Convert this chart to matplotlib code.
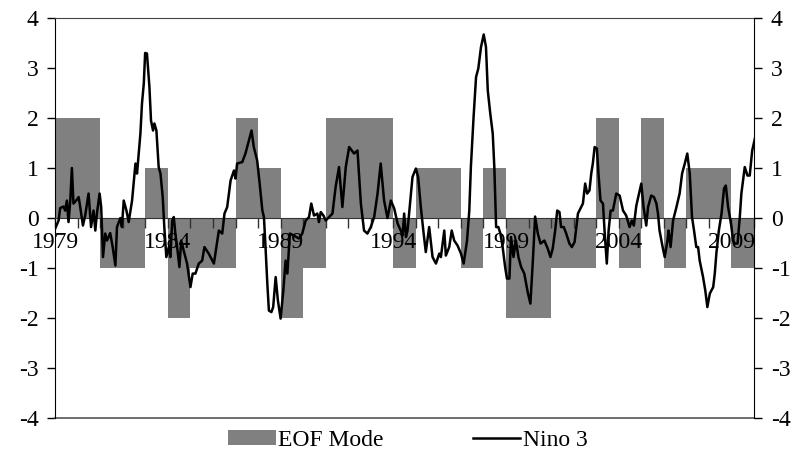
import matplotlib
matplotlib.use("Agg")
import matplotlib.pyplot as plt
from matplotlib.patches import Patch
from matplotlib.lines import Line2D

plt.rcParams['font.family'] = ['Liberation Serif', 'DejaVu Serif']
plt.rcParams['axes.unicode_minus'] = False

# yearly EOF mode (one bar per year)
years = list(range(1979, 2010))
eof_mode = [2, 2, -1, -1, 1, -2, -1, -1, 2, 1, -2, -1, 2, 2, 2, -1, 1, 1, -1, 1,
            -2, -2, -1, -1, 2, -1, 2, -1, 1, 1, -1]

# Nino 3 index (decimal year, value)
nino_t = [1979.00, 1979.15, 1979.22, 1979.37, 1979.44, 1979.52, 1979.59, 1979.67,
          1979.74, 1979.81, 1979.93, 1980.04, 1980.11, 1980.23, 1980.33, 1980.48,
          1980.59, 1980.70, 1980.78, 1980.85, 1980.97, 1981.04, 1981.12, 1981.22,
          1981.30, 1981.44, 1981.55, 1981.67, 1981.74, 1981.89, 1981.96, 1982.04,
          1982.16, 1982.26, 1982.41, 1982.56, 1982.63, 1982.78, 1982.85, 1982.93,
          1982.99, 1983.07, 1983.18, 1983.25, 1983.34, 1983.40, 1983.49, 1983.59,
          1983.67, 1983.77, 1983.84, 1983.93, 1984.04, 1984.11, 1984.19, 1984.26,
          1984.33, 1984.41, 1984.51, 1984.59, 1984.70, 1984.85, 1985.00, 1985.10,
          1985.22, 1985.37, 1985.52, 1985.62, 1985.81, 1986.04, 1986.26, 1986.41,
          1986.51, 1986.63, 1986.78, 1986.93, 1987.00, 1987.07, 1987.30, 1987.44,
          1987.59, 1987.71, 1987.81, 1987.96, 1988.07, 1988.19, 1988.26, 1988.33,
          1988.41, 1988.48, 1988.59, 1988.67, 1988.78, 1988.88, 1989.00, 1989.12,
          1989.22, 1989.30, 1989.41, 1989.59, 1989.81, 1989.96, 1990.11, 1990.26,
          1990.36, 1990.48, 1990.63, 1990.70, 1990.78, 1990.90, 1991.00, 1991.15,
          1991.30, 1991.44, 1991.59, 1991.74, 1991.89, 1992.04, 1992.26, 1992.41,
          1992.56, 1992.70, 1992.85, 1993.00, 1993.15, 1993.30,
          1993.44, 1993.59, 1993.74, 1993.89, 1994.04, 1994.19, 1994.33, 1994.41,
          1994.48, 1994.56, 1994.63, 1994.78, 1994.85, 1995.00, 1995.10, 1995.22,
          1995.33, 1995.44, 1995.59, 1995.74, 1995.89, 1996.04, 1996.11, 1996.26,
          1996.33, 1996.48, 1996.59, 1996.70, 1996.85, 1997.00, 1997.12, 1997.27,
          1997.37, 1997.44, 1997.56, 1997.67, 1997.77, 1997.89, 1998.01, 1998.11,
          1998.19, 1998.30, 1998.41, 1998.48, 1998.56, 1998.66, 1998.75, 1998.85,
          1998.96, 1999.04, 1999.15, 1999.22, 1999.33, 1999.44, 1999.55, 1999.67,
          1999.81, 1999.96, 2000.08, 2000.19, 2000.29, 2000.41, 2000.53, 2000.70,
          2000.85, 2000.97, 2001.07, 2001.18, 2001.27, 2001.37, 2001.44, 2001.56,
          2001.67, 2001.81, 2001.92, 2002.04, 2002.19, 2002.33, 2002.41, 2002.51,
          2002.60, 2002.70, 2002.78, 2002.85, 2002.93, 2003.03, 2003.10, 2003.19,
          2003.30, 2003.37, 2003.47, 2003.55, 2003.64, 2003.74, 2003.89, 2004.04,
          2004.19, 2004.33, 2004.48, 2004.58, 2004.67, 2004.78, 2004.88, 2005.00,
          2005.10, 2005.22, 2005.30, 2005.44, 2005.56, 2005.67, 2005.74, 2005.81,
          2005.96, 2006.04, 2006.16, 2006.21, 2006.30, 2006.41, 2006.56, 2006.70,
          2006.81, 2006.93, 2007.04, 2007.15, 2007.25, 2007.34, 2007.44, 2007.52,
          2007.59, 2007.74, 2007.84, 2007.93, 2008.04, 2008.19, 2008.26, 2008.33,
          2008.44, 2008.56, 2008.67, 2008.75, 2008.85, 2008.93, 2009.00, 2009.07,
          2009.15, 2009.27, 2009.37, 2009.44, 2009.59, 2009.71, 2009.81, 2009.92,
          2010.04]
nino_v = [-0.21, -0.05, 0.20, 0.23, 0.15, 0.35, -0.08, 0.35,
          1.00, 0.29, 0.35, 0.42, 0.22, -0.15, 0.05, 0.49,
          -0.18, 0.15, -0.25, 0.09, 0.49, 0.22, -0.78, -0.31,
          -0.45, -0.30, -0.58, -0.95, -0.18, 0.00, -0.18, 0.35,
          0.15, -0.08, 0.35, 1.09, 0.89, 1.69, 2.29, 2.69,
          3.30, 3.29, 2.62, 1.95, 1.75, 1.89, 1.75, 1.02,
          0.89, 0.42, -0.18, -0.78, -0.58, -0.78, -0.05, 0.02,
          -0.31, -0.58, -0.98, -0.45, -0.65, -0.91, -1.38, -1.11,
          -1.11, -0.91, -0.85, -0.58, -0.71, -0.91, -0.25, -0.31,
          0.09, 0.22, 0.75, 0.95, 0.79, 1.09, 1.12, 1.29,
          1.55, 1.75, 1.42, 1.15, 0.69, 0.15, 0.02, -0.58,
          -1.31, -1.85, -1.88, -1.78, -1.18, -1.65, -2.01, -1.45,
          -0.85, -1.11, -0.31, -0.35, -0.41, -0.31, -0.05, 0.02,
          0.29, 0.05, 0.09, -0.08, 0.12, 0.05, -0.05, 0.02,
          0.09, 0.62, 1.02, 0.22, 1.02, 1.42, 1.29, 1.35,
          0.29, -0.25, -0.31, -0.18, 0.02, 0.49,
          1.09, 0.35, 0.00, 0.35, 0.19, -0.11, -0.25, -0.35,
          0.09, -0.38, -0.25, 0.49, 0.82, 0.99, 0.82, 0.22,
          -0.25, -0.68, -0.18, -0.78, -0.91, -0.71, -0.78, -0.25,
          -0.75, -0.58, -0.25, -0.45, -0.55, -0.71, -0.91, -0.45,
          0.15, 1.02, 2.02, 2.82, 2.99, 3.42, 3.67, 3.42,
          2.55, 2.09, 1.69, 1.02, -0.18, -0.18, -0.31, -0.58,
          -0.98, -1.21, -1.21, -0.38, -0.78, -0.45, -0.78, -0.98,
          -1.11, -1.48, -1.71, -0.85, 0.03, -0.31, -0.51, -0.45,
          -0.61, -0.78, -0.61, -0.25, 0.15, 0.12, -0.18, -0.18,
          -0.31, -0.51, -0.58, -0.48, 0.09, 0.22, 0.29, 0.69,
          0.49, 0.55, 0.89, 1.09, 1.42, 1.39, 0.89, 0.35,
          0.29, -0.25, -0.91, -0.25, 0.15, 0.15, 0.49, 0.45,
          0.15, 0.05, -0.18, -0.05, -0.15, 0.25, 0.45, 0.69,
          0.22, -0.15, 0.22, 0.45, 0.42, 0.29, 0.09, -0.25,
          -0.61, -0.78, -0.45, -0.25, -0.58, -0.05, 0.22, 0.49,
          0.89, 1.09, 1.29, 0.89, 0.02, -0.25, -0.58, -0.58,
          -0.85, -1.18, -1.45, -1.78, -1.51, -1.38, -1.11, -0.71,
          -0.25, 0.09, 0.59, 0.65, 0.22, 0.02, -0.18, -0.45,
          -0.51, -0.51, 0.02, 0.49, 1.02, 0.85, 0.85, 1.35,
          1.59]

fig = plt.figure(figsize=(8, 4.61), dpi=100)
ax = fig.add_axes([0.069, 0.093, 0.8735, 0.868])

ax.bar(years, eof_mode, width=1.0, align='edge', color='#808080', zorder=0.3)
ax.plot(nino_t, nino_v, color='black', lw=1.8, zorder=3)

ax.set_xlim(1979, 2010)
ax.set_ylim(-4, 4)
ax.set_axisbelow(True)

# x axis sits on zero
ax.spines['bottom'].set_position(('data', 0))
ax.spines['bottom'].set_color('#333333')
ax.spines['top'].set_color('#444444')
ax.spines['right'].set_visible(False)
ax.axhline(-4, color='#555555', lw=1.2, clip_on=False, zorder=2.5)

ax.set_xticks(range(1979, 2011))
ax.set_xticklabels([str(y) if (y - 1979) % 5 == 0 else '' for y in range(1979, 2011)])
ax.tick_params(axis='x', direction='out', length=7, width=1, pad=3, labelsize=17, color='#333333')
ax.set_yticks(range(-4, 5))
ax.tick_params(axis='y', direction='out', length=6, width=1, labelsize=17, pad=6)

ax2 = ax.twinx()
ax2.set_ylim(-4, 4)
ax2.set_yticks(range(-4, 5))
ax2.tick_params(axis='y', direction='out', length=6, width=1, labelsize=17, pad=6)
for s in ['top', 'bottom', 'left']:
    ax2.spines[s].set_visible(False)

handles = [Patch(facecolor='#808080', edgecolor='none'),
           Line2D([0], [0], color='black', lw=1.8)]
fig.legend(handles, ['EOF Mode', 'Nino 3'], loc='center', bbox_to_anchor=(0.51, 0.045),
           ncol=2, frameon=False, fontsize=17, handlelength=2.0, handleheight=0.6,
           handletextpad=0.1, columnspacing=3.8)

fig.savefig('out.png', dpi=100)
